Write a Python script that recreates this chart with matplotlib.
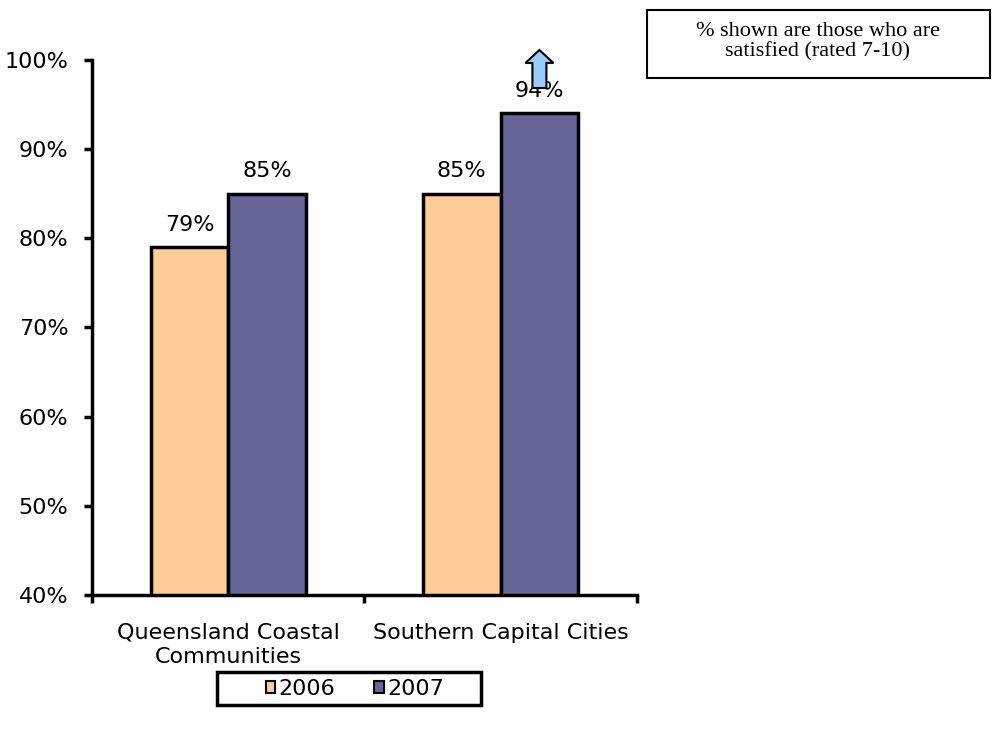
import numpy as np
import matplotlib.pyplot as plt
from matplotlib.patches import Polygon, Rectangle

categories = ["Queensland Coastal\nCommunities", "Southern Capital Cities"]
years = ["2006", "2007"]
values_2006 = [79, 85]
values_2007 = [85, 94]
yticks = [40, 50, 60, 70, 80, 90, 100]

colors = ["#FFCC99", "#666699"]
fs = 16

plt.rcParams['font.family'] = ['DejaVu Sans']
fig = plt.figure(figsize=(9.95, 7.31), dpi=100)
ax = fig.add_axes([0.0925, 0.186, 0.5475, 0.732])

def px(xp, yp):
    # pixel position (from top-left) to figure fraction
    return (xp / 995, 1 - yp / 731)

x = np.arange(len(categories))
w = 0.285
for i, (vals, col, yr) in enumerate(zip([values_2006, values_2007], colors, years)):
    pos = x + (i - 0.5) * w
    ax.bar(pos, vals, width=w, bottom=0, color=col, edgecolor='black',
           linewidth=2.5, label=yr, zorder=2)
    for p, v in zip(pos, vals):
        ax.text(p, v + 1.4, f"{v}%", ha='center', va='bottom', fontsize=fs)

ax.set_xlim(-0.5, 1.5)
ax.set_ylim(40, 100)
ax.set_yticks(yticks)
ax.set_yticklabels([f"{t}%" for t in yticks], fontsize=fs)
ax.set_xticks([-0.5, 0.5, 1.5], minor=False)
ax.set_xticklabels([])
ax.set_xticks(x, minor=True)
ax.set_xticklabels(categories, minor=True, fontsize=fs, linespacing=1.25)
ax.tick_params(axis='x', which='minor', length=0, pad=20)
ax.tick_params(axis='x', which='major', length=6, width=2.5, direction='out')
ax.tick_params(axis='y', length=6, width=2.5, direction='out', pad=11)
for s in ['top', 'right']:
    ax.spines[s].set_visible(False)
for s in ['left', 'bottom']:
    ax.spines[s].set_linewidth(2.5)

# legend below the chart, with its own frame
leg = fig.legend(loc='center', bbox_to_anchor=px(355, 689), ncol=2,
                 fontsize=fs, frameon=False, handlelength=0.42,
                 handleheight=0.42, handletextpad=0.15, columnspacing=1.75,
                 borderpad=0, borderaxespad=0)
for h in leg.legend_handles:
    h.set_linewidth(1.5)
x0, y0 = px(217, 705)
x1, y1 = px(481, 672)
fig.patches.append(Rectangle((x0, y0), x1 - x0, y1 - y0, transform=fig.transFigure,
                             facecolor='none', edgecolor='black', linewidth=2.5))

# note box at top right
x0, y0 = px(647, 78)
x1, y1 = px(990, 10)
fig.patches.append(Rectangle((x0, y0), x1 - x0, y1 - y0, transform=fig.transFigure,
                             facecolor='white', edgecolor='black', linewidth=1.5))
fig.text(*px(818, 42), "% shown are those who are\nsatisfied (rated 7-10)",
         ha='center', va='center', fontsize=16, family='Liberation Serif',
         linespacing=1.1)

# upward arrow above the 2007 bar of the second group
ax_to_fig = ax.transData + fig.transFigure.inverted()
cx, _ = ax_to_fig.transform((1 + 0.5 * w, 0))
cxp = cx * 995
arrow = Polygon([px(cxp - 7, 88), px(cxp - 7, 63), px(cxp - 14, 63), px(cxp, 50),
                 px(cxp + 14, 63), px(cxp + 7, 63), px(cxp + 7, 88)],
                closed=True, transform=fig.transFigure, facecolor='#99CCFF',
                edgecolor='black', linewidth=1.5, zorder=5)
fig.patches.append(arrow)

fig.savefig("out.png", dpi=100)
